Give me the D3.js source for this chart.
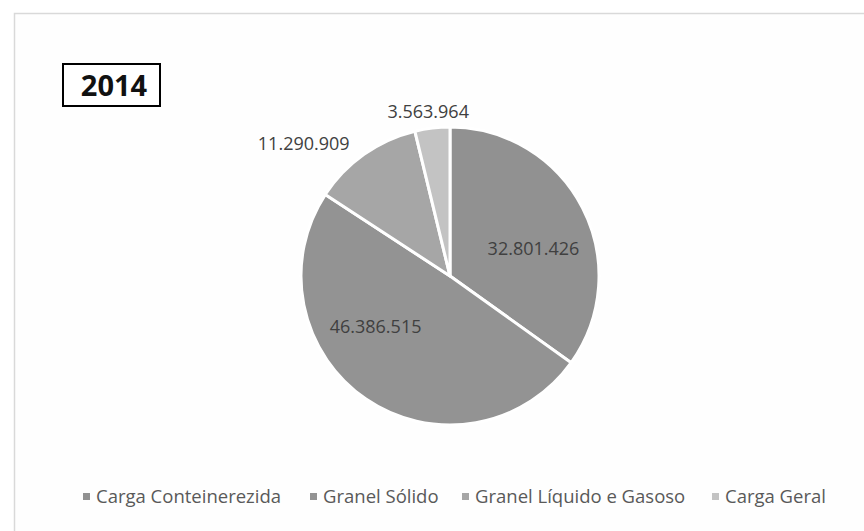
<!DOCTYPE html>
<html>
<head>
<meta charset="utf-8">
<script src="https://cdn.jsdelivr.net/npm/d3@7"></script>
<style>
  html, body { margin: 0; padding: 0; background: #fff; }
  text { font-family: "Open Sans", sans-serif; }
</style>
</head>
<body>
<svg id="grafico"></svg>
<script>
// dados
const categorias = ['Carga Conteinerezida', 'Granel Sólido', 'Granel Líquido e Gasoso', 'Carga Geral'];
const valores = [32801426, 46386515, 11290909, 3563964];
const rotulos = ['32.801.426', '46.386.515', '11.290.909', '3.563.964'];
const ano = '2014';

const largura = 864, altura = 531;
const cores = ['#919191', '#939393', '#a6a6a6', '#c3c3c3'];

let svg = d3.select('#grafico')
    .attr('width', largura)
    .attr('height', altura);

// moldura da area do grafico
svg.append('rect')
    .attr('x', 14.5)
    .attr('y', 13.5)
    .attr('width', 900)
    .attr('height', 600)
    .attr('fill', '#fefefe')
    .attr('stroke', '#d9d9d9')
    .attr('stroke-width', 1.5);

// caixa do ano
svg.append('rect')
    .attr('x', 63)
    .attr('y', 64)
    .attr('width', 97)
    .attr('height', 42)
    .attr('fill', '#fff')
    .attr('stroke', '#000')
    .attr('stroke-width', 2);

svg.append('text')
    .attr('x', 114)
    .attr('y', 96)
    .style('text-anchor', 'middle')
    .style('font-weight', 'bold')
    .style('font-size', '29px')
    .attr('fill', '#111')
    .text(ano);

const cx = 450, cy = 276, raio = 149;

const dados = categorias.map((c, i) => ({ chave: c, valor: valores[i], rotulo: rotulos[i] }));

const pizza = d3.pie().sort(null).value(d => d.valor);
const arco = d3.arc().innerRadius(0).outerRadius(raio);
const arcoInterno = d3.arc().innerRadius(raio * 0.6).outerRadius(raio * 0.6);
const arcoExterno = d3.arc().innerRadius(raio + 18).outerRadius(raio + 18);

const fatias = pizza(dados);

let plotagem = svg.append('g')
    .attr('transform', 'translate(' + cx + ',' + cy + ')');

plotagem.selectAll('.fatia')
    .data(fatias)
    .enter()
    .append('path')
    .classed('fatia', true)
    .attr('d', arco)
    .attr('fill', (d, i) => cores[i])
    .attr('stroke', '#fff')
    .attr('stroke-width', 3)
    .attr('stroke-linejoin', 'round');

// ajustes de posicao dos rotulos (estilo Excel)
const ajuste = [[4, 14], [-24, -23], [-4, 4], [-2, 2]];
const dentro = [true, true, false, false];

plotagem.selectAll('.rotulo')
    .data(fatias)
    .enter()
    .append('text')
    .classed('rotulo', true)
    .attr('x', (d, i) => (dentro[i] ? arcoInterno : arcoExterno).centroid(d)[0] + ajuste[i][0])
    .attr('y', (d, i) => (dentro[i] ? arcoInterno : arcoExterno).centroid(d)[1] + ajuste[i][1])
    .attr('dy', '0.35em')
    .style('text-anchor', (d, i) => i === 2 ? 'end' : 'middle')
    .style('font-size', '18px')
    .attr('fill', '#404040')
    .text(d => d.data.rotulo);

// legenda
const xLegenda = [83, 310, 462, 712];

let legenda = svg.append('g').attr('transform', 'translate(0,497)');
let itens = legenda.selectAll('.item')
    .data(dados)
    .enter()
    .append('g')
    .classed('item', true)
    .attr('transform', (d, i) => 'translate(' + xLegenda[i] + ',0)');

itens.append('rect')
    .attr('x', 0)
    .attr('y', -4)
    .attr('width', 7)
    .attr('height', 7)
    .attr('fill', (d, i) => cores[i]);

itens.append('text')
    .attr('x', 13)
    .attr('y', 0)
    .attr('dy', '0.35em')
    .style('font-size', '18.5px')
    .attr('fill', '#595959')
    .text(d => d.chave);
</script>
</body>
</html>
